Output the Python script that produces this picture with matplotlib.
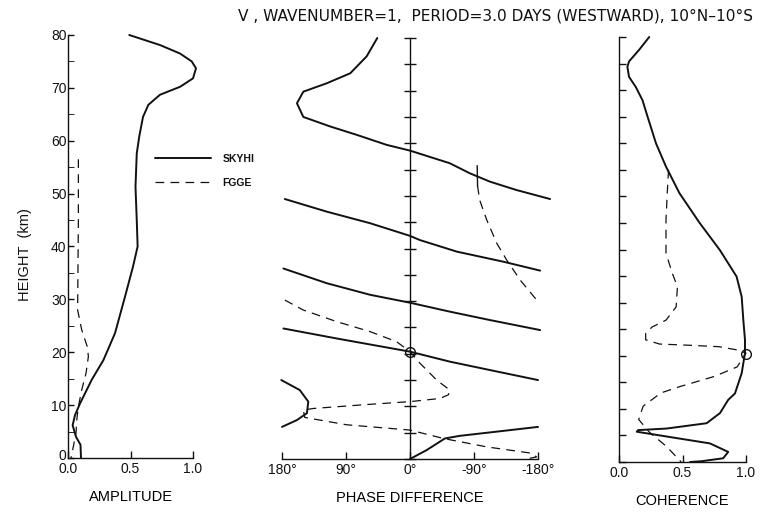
import matplotlib
matplotlib.use("Agg")
import matplotlib.pyplot as plt
import matplotlib.transforms as mtransforms
from matplotlib.ticker import MultipleLocator, FixedLocator

# ---------------- data ----------------
# Amplitude of V (normalised)
amp_skyhi_h = [80, 78.1, 76.5, 75.0, 73.7, 71.8, 70.2, 68.7, 66.8, 64.5, 60.8, 57.6,
               51.3, 45.0, 40.0, 36.2, 30.5, 23.6, 18.5, 14.8, 10.3, 8.1, 6.2, 4.0, 2.5, 0]
amp_skyhi = [0.49, 0.736, 0.896, 0.99, 1.024, 1.0, 0.896, 0.736, 0.643, 0.60, 0.57, 0.55,
             0.54, 0.55, 0.557, 0.52, 0.456, 0.376, 0.283, 0.19, 0.096, 0.056, 0.037, 0.064, 0.10, 0.104]
amp_fgge_h = [56.5, 45.0, 28.0, 24.2, 21.0, 19.2, 16.0, 12.9, 9.7, 7.2, 4.7, 2.2, 0]
amp_fgge = [0.083, 0.083, 0.077, 0.11, 0.155, 0.163, 0.144, 0.11, 0.083, 0.07, 0.064, 0.043, 0.024]

# Phase difference (degrees), SKYHI, wrapped into branches
ph_skyhi_a_h = [80, 76.5, 73.3, 71.4, 69.8, 67.6, 65.0, 63.2, 61.6, 59.7, 58.6, 57.4, 56.2, 54.3, 52.7, 51.1, 49.4]
ph_skyhi_a = [46, 61, 84, 117, 150, 159, 150, 112.5, 75, 33, 0, -28, -56, -84, -112.5, -150, -197]
ph_skyhi_b_h = [49.4, 47.0, 44.8, 42.4, 41.6, 39.4, 37.5, 35.8]
ph_skyhi_b = [176, 117, 56, 0, -14, -66, -131, -183]
ph_skyhi_c_h = [36.2, 33.4, 31.2, 29.7, 28.0, 26.4, 24.5]
ph_skyhi_c = [178, 117, 56, 0, -56, -112.5, -183]
ph_skyhi_d_h = [24.8, 22.9, 20.4, 18.5, 16.9, 15.0]
ph_skyhi_d = [178, 103, 0, -56, -112.5, -180]
ph_skyhi_e_h = [15.0, 13.1, 10.9, 8.7, 7.4, 6.1]
ph_skyhi_e = [181, 155, 143, 145, 159, 180]
ph_skyhi_f_h = [0, 1.7, 3.9, 4.4, 5.2, 6.1]
ph_skyhi_f = [0, -23.5, -49, -70, -122, -180]

# Phase difference (degrees), FGGE
ph_fgge_a_h = [55.7, 51.9, 49.2, 45.4, 41.0, 37.8, 34.0, 29.9]
ph_fgge_a = [-94.5, -95, -98, -108, -122, -136, -155, -180]
ph_fgge_b_h = [30.2, 28.3, 26.1, 24.2, 22.3, 20.4, 18.2, 15.0, 13.1, 12.2, 11.5, 10.9, 10.3,
               9.6, 9.3, 7.9, 6.5, 5.5, 3.9, 2.3, 1.1, 0.4, 0]
ph_fgge_b = [176, 150, 103, 56, 19, 0, -14, -37.5, -56, -54, -42, 0, 66,
             136, 150, 148, 89, 0, -47, -108, -171, -178, -164]

# Coherence
coh_skyhi_h = [80, 77.6, 75.4, 74.4, 72.5, 70.6, 68.1, 65.0, 60.0, 55.6, 50.6, 45.0, 39.9,
               34.9, 31.1, 26.7, 23.0, 20.5, 16.7, 12.9, 11.7, 9.2, 7.3, 6.3, 6.0, 5.7,
               4.8, 3.5, 1.9, 0.7, 0.15, 0]
coh_skyhi = [0.238, 0.159, 0.079, 0.066, 0.079, 0.132, 0.185, 0.225, 0.291, 0.37, 0.476, 0.635, 0.794,
             0.926, 0.966, 0.979, 0.992, 0.992, 0.966, 0.913, 0.86, 0.795, 0.69, 0.375, 0.15, 0.14,
             0.375, 0.716, 0.86, 0.82, 0.65, 0.56]
coh_fgge_h = [55.0, 50.6, 45.6, 39.3, 35.5, 33.0, 29.2, 26.7, 25.4, 24.2, 23.0, 22.2, 22.0,
              21.7, 21.1, 20.5, 17.9, 16.1, 14.2, 13.0, 10.5, 8.0, 5.6, 2.9, 0]
coh_fgge = [0.39, 0.38, 0.37, 0.37, 0.42, 0.46, 0.45, 0.37, 0.26, 0.21, 0.21, 0.32, 0.53,
            0.79, 0.93, 1.0, 0.93, 0.75, 0.48, 0.33, 0.19, 0.155, 0.24, 0.375, 0.49]

# crossing point marked in phase and coherence panels
mark_h = 20.4
mark_phase = 0
mark_coh = 1.0

height_ticks = list(range(0, 81, 10))
amp_ticks = [0.0, 0.5, 1.0]
amp_ticklabels = ["0.0", "0.5", "1.0"]
phase_ticks = [180, 90, 0, -90, -180]
phase_ticklabels = ["180°", "90°", "0°", "-90°", "-180°"]
coh_ticks = [0.0, 0.5, 1.0]
coh_ticklabels = ["0.0", "0.5", "1.0"]

title = "V , WAVENUMBER=1,  PERIOD=3.0 DAYS (WESTWARD), 10°N–10°S"

# ---------------- style ----------------
INK = "#111111"
SOLID = dict(color=INK, lw=1.4, solid_capstyle="round")
DASH = dict(color=INK, lw=0.9, linestyle=(0, (7, 5)))

plt.rcParams["font.family"] = ["Liberation Sans", "DejaVu Sans"]
plt.rcParams["axes.linewidth"] = 1.0
plt.rcParams["text.color"] = INK

W, H = 760, 512
fig = plt.figure(figsize=(W / 100, H / 100), dpi=100)
fig.patch.set_facecolor("white")


def box(x0, x1, ytop, ybot):
    return [x0 / W, 1 - ybot / H, (x1 - x0) / W, (ybot - ytop) / H]


ax1 = fig.add_axes(box(68, 193, 35, 458))
ax2 = fig.add_axes(box(282, 538, 38, 459))
ax3 = fig.add_axes(box(619, 746, 37, 462))

for ax in (ax1, ax2, ax3):
    ax.set_facecolor("none")
    ax.spines["top"].set_visible(False)
    ax.spines["right"].set_visible(False)
    for s in ax.spines.values():
        s.set_color(INK)
    ax.set_ylim(0, 80)
    ax.tick_params(colors=INK, labelsize=10, width=1.0)

# ---- amplitude ----
ax1.plot(amp_skyhi, amp_skyhi_h, clip_on=False, label="SKYHI", **SOLID)
ax1.plot(amp_fgge, amp_fgge_h, clip_on=False, label="FGGE", **DASH)
ax1.set_xlim(0, 1.0)
ax1.yaxis.set_major_locator(FixedLocator(height_ticks))
ax1.yaxis.set_minor_locator(MultipleLocator(5))
ax1.tick_params(axis="y", which="both", direction="in", length=4, pad=1)
ax1.set_xticks(amp_ticks)
ax1.set_xticklabels(amp_ticklabels)
ax1.tick_params(axis="x", direction="in", length=5, pad=3)
ax1.set_xlabel("AMPLITUDE", fontsize=10.5, labelpad=10)
# lift the "0" height label a little so it clears the "0.0" below it
zero_label = ax1.get_yticklabels()[0]
zero_label.set_transform(zero_label.get_transform() +
                         mtransforms.ScaledTranslation(0, 4 / 100, fig.dpi_scale_trans))
leg = ax1.legend(loc="upper left", bbox_to_anchor=(155 / W, 1 - 154 / H),
                 bbox_transform=fig.transFigure, frameon=False, borderpad=0,
                 borderaxespad=0, handlelength=5.4, handletextpad=1.1,
                 labelspacing=1.3, prop={"family": "Liberation Sans", "size": 7.5,
                                          "weight": "bold"})

# ---- phase difference ----
for hh, pp in [(ph_skyhi_a_h, ph_skyhi_a), (ph_skyhi_b_h, ph_skyhi_b),
               (ph_skyhi_c_h, ph_skyhi_c), (ph_skyhi_d_h, ph_skyhi_d),
               (ph_skyhi_e_h, ph_skyhi_e), (ph_skyhi_f_h, ph_skyhi_f)]:
    ax2.plot(pp, hh, clip_on=False, **SOLID)
ax2.plot(ph_fgge_a[:2], ph_fgge_a_h[:2], color=INK, lw=1.0)
ax2.plot(ph_fgge_a[1:], ph_fgge_a_h[1:], clip_on=False, **DASH)
ax2.plot(ph_fgge_b, ph_fgge_b_h, clip_on=False, **DASH)
ax2.plot([mark_phase], [mark_h], "o", ms=7, mfc="none", mec=INK, mew=1.0, clip_on=False)
ax2.set_xlim(180, -180)
ax2.spines["left"].set_position(("data", 0))
ax2.yaxis.set_major_locator(MultipleLocator(5))
ax2.tick_params(axis="y", direction="inout", length=9, labelleft=False)
ax2.set_xticks(phase_ticks)
ax2.set_xticklabels(phase_ticklabels)
ax2.tick_params(axis="x", direction="in", length=5, pad=3)
ax2.set_xlabel("PHASE DIFFERENCE", fontsize=10.5, labelpad=10)

# ---- coherence ----
ax3.plot(coh_skyhi, coh_skyhi_h, clip_on=False, **SOLID)
ax3.plot(coh_fgge, coh_fgge_h, clip_on=False, **DASH)
ax3.plot([mark_coh], [mark_h], "o", ms=7, mfc="none", mec=INK, mew=1.0, clip_on=False)
ax3.set_xlim(0, 1.0)
ax3.yaxis.set_major_locator(MultipleLocator(5))
ax3.tick_params(axis="y", direction="in", length=5, labelleft=False)
ax3.set_xticks(coh_ticks)
ax3.set_xticklabels(coh_ticklabels)
ax3.tick_params(axis="x", direction="in", length=5, pad=3)
ax3.set_xlabel("COHERENCE", fontsize=10.5, labelpad=10)

fig.text(25 / W, 1 - 255 / H, "HEIGHT  (km)", rotation=90, ha="center", va="center",
         fontsize=10.5)
fig.text(496 / W, 1 - 16 / H, title, ha="center", va="center", fontsize=11.1,
         family="DejaVu Sans")

fig.savefig("out.png", dpi=100, facecolor="white")
